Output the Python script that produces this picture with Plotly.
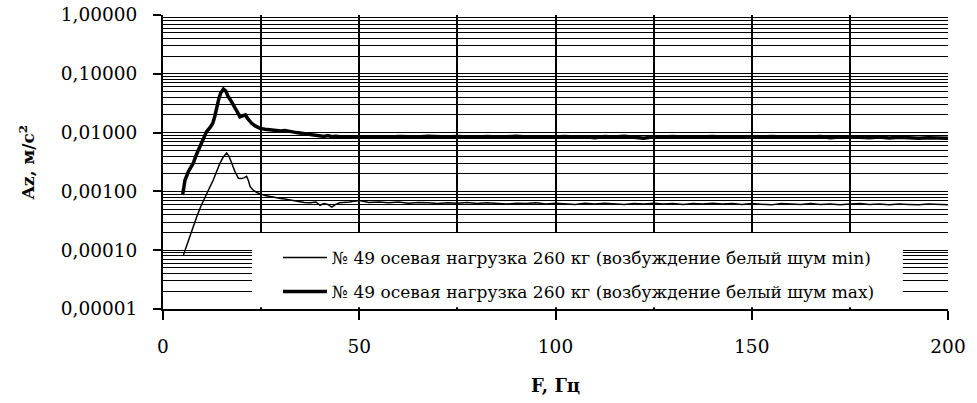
import plotly.graph_objects as go

# Frequency grid (Hz) and acceleration amplitudes (m/s^2)
freq_min = [5.2, 6.0, 6.9, 7.7, 8.6, 9.6, 10.7, 11.7, 12.8, 13.6, 14.5, 15.3, 16.2, 16.8,
            17.5, 18.3, 19.2, 19.9, 20.6, 21.3, 21.8, 22.2, 23.0, 24.0, 25.0, 26.0, 27.0,
            28.0, 29.0, 30.0, 31.0, 32.0, 33.0, 34.0, 35.0, 36.0, 37.5, 39.0, 40.0, 41.0,
            42.0, 43.0, 44.0, 45.0, 47.5,
            50.0, 52.5, 55.0, 57.5, 60.0, 62.5, 65.0, 67.5, 70.0, 72.5, 75.0, 77.5, 80.0,
            82.5, 85.0, 87.5, 90.0, 92.5, 95.0, 97.5, 100.0, 102.5, 105.0, 107.5, 110.0,
            112.5, 115.0, 117.5, 120.0, 122.5, 125.0, 127.5, 130.0, 132.5, 135.0, 137.5,
            140.0, 142.5, 145.0, 147.5, 150.0, 152.5, 155.0, 157.5, 160.0, 162.5, 165.0,
            167.5, 170.0, 172.5, 175.0, 177.5, 180.0, 182.5, 185.0, 187.5, 190.0, 192.5,
            195.0, 197.5, 200.0]
az_min = [0.000083, 0.00012, 0.00017, 0.00025, 0.00037, 0.00055, 0.00081, 0.0011, 0.00156,
          0.0022, 0.0030, 0.0038, 0.0045, 0.0040, 0.0030, 0.0022, 0.00167, 0.00165, 0.0017,
          0.0018, 0.0015, 0.0012, 0.00105, 0.00095, 0.00090, 0.00085, 0.00083, 0.00080,
          0.00078, 0.00076, 0.00074, 0.00072, 0.00070, 0.00068, 0.00066, 0.00065, 0.00064,
          0.00066, 0.00058, 0.00062, 0.00060, 0.00054, 0.00060, 0.00064, 0.00066,
          0.00070, 0.00065, 0.00066, 0.00064, 0.00066, 0.00063, 0.00065, 0.00064, 0.00062,
          0.00064, 0.00063, 0.00065, 0.00062, 0.00064, 0.00063, 0.00061, 0.00063, 0.00062,
          0.00064, 0.00061, 0.00063, 0.00062, 0.00060, 0.00063, 0.00061, 0.00063, 0.00062,
          0.00060, 0.00062, 0.00061, 0.00063, 0.00061, 0.00062, 0.00060, 0.00062, 0.00061,
          0.00063, 0.00061, 0.00062, 0.00060, 0.00062, 0.00061, 0.00059, 0.00062, 0.00061,
          0.00060, 0.00062, 0.00060, 0.00061, 0.00059, 0.00061, 0.00062, 0.00060, 0.00061,
          0.00059, 0.00061, 0.00060, 0.00059, 0.00061, 0.00060, 0.00059]

freq_max = [5.0, 5.6, 6.5, 7.7, 8.5, 9.4, 10.3, 11.1, 12.0, 12.7, 13.2, 13.7, 14.2, 14.7,
            15.4, 16.0, 16.6, 17.4, 18.3, 19.0, 19.6, 20.3, 21.0, 21.6, 22.1, 22.6, 23.5,
            24.7, 26.0, 27.0, 28.0, 29.0, 30.0, 31.0, 32.0, 33.0, 34.0, 35.0, 36.0, 37.5,
            39.0, 40.0, 41.0, 42.0, 43.0, 44.0, 45.0, 47.5,
            50.0, 52.5, 55.0, 57.5, 60.0, 62.5, 65.0, 67.5, 70.0, 72.5, 75.0, 77.5, 80.0,
            82.5, 85.0, 87.5, 90.0, 92.5, 95.0, 97.5, 100.0, 102.5, 105.0, 107.5, 110.0,
            112.5, 115.0, 117.5, 120.0, 122.5, 125.0, 127.5, 130.0, 132.5, 135.0, 137.5,
            140.0, 142.5, 145.0, 147.5, 150.0, 152.5, 155.0, 157.5, 160.0, 162.5, 165.0,
            167.5, 170.0, 172.5, 175.0, 177.5, 180.0, 182.5, 185.0, 187.5, 190.0, 192.5,
            195.0, 197.5, 200.0]
az_max = [0.00087, 0.00155, 0.0022, 0.0030, 0.0042, 0.0058, 0.0079, 0.0104, 0.0122, 0.0145,
          0.0190, 0.0275, 0.0370, 0.0470, 0.0550, 0.0510, 0.0410, 0.0340, 0.0275, 0.0220,
          0.0186, 0.0192, 0.0200, 0.0172, 0.0156, 0.0144, 0.0130, 0.0118, 0.0114, 0.0112,
          0.0110, 0.0108, 0.0106, 0.0108, 0.0104, 0.0103, 0.0100, 0.0098, 0.0094, 0.0092,
          0.0090, 0.0088, 0.0086, 0.0089, 0.0085, 0.0087, 0.0085, 0.0084,
          0.0084, 0.0086, 0.0085, 0.0083, 0.0086, 0.0085, 0.0084, 0.0087, 0.0085, 0.0084,
          0.0086, 0.0085, 0.0083, 0.0086, 0.0084, 0.0085, 0.0087, 0.0084, 0.0085, 0.0083,
          0.0085, 0.0086, 0.0084, 0.0085, 0.0082, 0.0086, 0.0084, 0.0087, 0.0083, 0.0080,
          0.0085, 0.0084, 0.0086, 0.0083, 0.0085, 0.0084, 0.0086, 0.0084, 0.0085, 0.0083,
          0.0085, 0.0084, 0.0086, 0.0085, 0.0083, 0.0085, 0.0084, 0.0086, 0.0082, 0.0084,
          0.0085, 0.0083, 0.0082, 0.0084, 0.0081, 0.0083, 0.0082, 0.0080, 0.0082, 0.0081,
          0.0080]

y_ticks = [0.00001, 0.0001, 0.001, 0.01, 0.1, 1.0]
y_tick_labels = ["0,00001", "0,00010", "0,00100", "0,01000", "0,10000", "1,00000"]
x_ticks = [0, 50, 100, 150, 200]

name_min = "№ 49 осевая нагрузка 260 кг (возбуждение белый шум min)"
name_max = "№ 49 осевая нагрузка 260 кг (возбуждение белый шум max)"

FONT = "DejaVu Serif"

# minor log grid: 2..9 within each decade
minor_y = [m * 10.0 ** e for e in range(-5, 0) for m in range(2, 10)]

fig = go.Figure()
fig.add_trace(go.Scatter(x=freq_min, y=az_min, mode="lines", name=name_min,
                         legendgroup="min", line=dict(color="black", width=1.5)))
fig.add_trace(go.Scatter(x=freq_max, y=az_max, mode="lines", name=name_max,
                         legendgroup="max", line=dict(color="black", width=3.5)))

# white panel behind the legend
fig.add_shape(type="rect", xref="x", yref="paper", x0=22.7, x1=188.5, y0=0.006, y1=0.2585,
              fillcolor="white", line=dict(width=0), layer="above")

fig.update_layout(
    width=977, height=403,
    margin=dict(l=163, r=29, t=15, b=94),
    paper_bgcolor="white", plot_bgcolor="white",
    font=dict(family=FONT, color="black", size=17),
    showlegend=True,
    legend=dict(x=0.1465, y=0.235, xanchor="left", yanchor="top",
                bgcolor="rgba(255,255,255,0)", borderwidth=0,
                font=dict(family=FONT, size=17, color="black"),
                itemwidth=44, tracegroupgap=9),
    xaxis=dict(
        range=[0, 200], tickmode="array", tickvals=x_ticks,
        ticks="outside", ticklen=9, tickwidth=2, tickcolor="black",
        ticklabelstandoff=11, automargin=False,
        showline=True, linecolor="black", linewidth=2,
        showgrid=True, gridcolor="black", gridwidth=1.5,
        minor=dict(dtick=25, tick0=0, showgrid=True, gridcolor="black", gridwidth=1.5,
                   ticks=""),
        zeroline=False,
        tickfont=dict(family=FONT, size=18.5),
        title=dict(text="<b>F, Гц</b>", font=dict(family=FONT, size=18), standoff=23),
    ),
    yaxis=dict(
        type="log", range=[-5, 0], tickmode="array", tickvals=y_ticks,
        ticktext=y_tick_labels,
        ticks="outside", ticklen=8, tickwidth=2, tickcolor="black",
        ticklabelstandoff=12, automargin=False,
        showline=True, linecolor="black", linewidth=2,
        showgrid=True, gridcolor="black", gridwidth=1.2,
        minor=dict(tickmode="array", tickvals=minor_y, showgrid=True,
                   gridcolor="black", gridwidth=1.2, ticks=""),
        zeroline=False,
        tickfont=dict(family=FONT, size=18.5),
        title=dict(text="<b>Az, м/с<sup>2</sup></b>", font=dict(family=FONT, size=17),
                   standoff=22),
    ),
)

fig.write_html("out.html")
